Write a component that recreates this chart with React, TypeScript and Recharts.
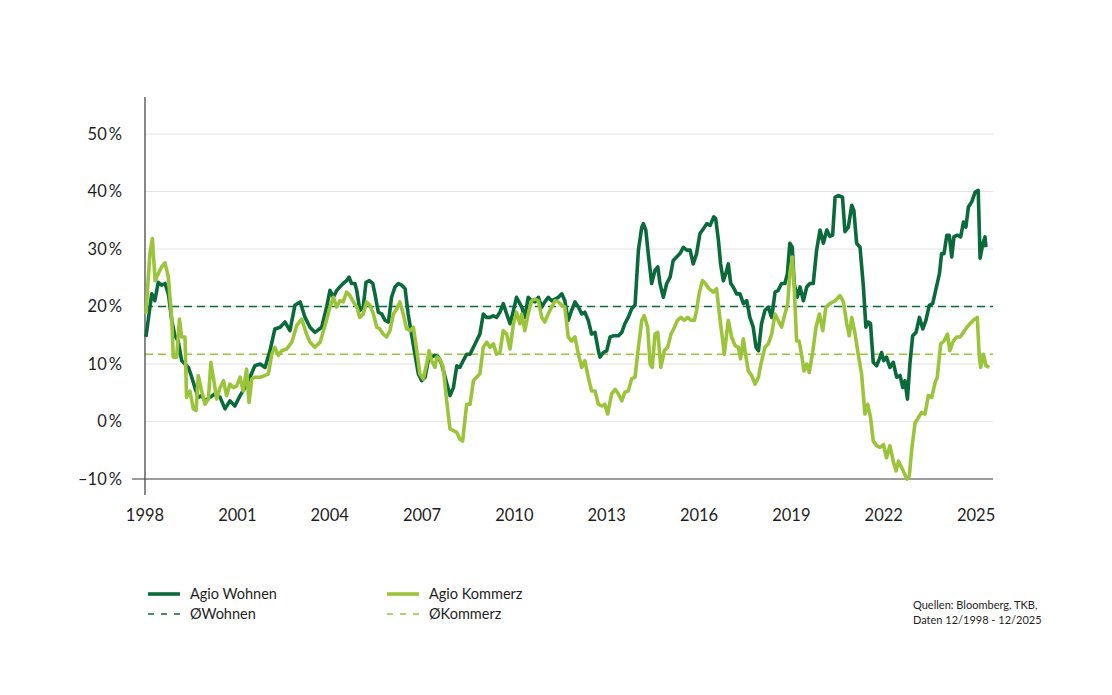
import React from 'react';
import { LineChart, Line, XAxis, YAxis, ReferenceLine } from 'recharts';

const DARK = '#0b6a3b';
const LIGHT = '#9cc43b';
const FONT = 'Lato, "Noto Sans", sans-serif';

const yearTicks = [1998, 2001, 2004, 2007, 2010, 2013, 2016, 2019, 2022, 2025];
const percentTicks = [-10, 0, 10, 20, 30, 40, 50];
const gridLevels = [0, 10, 20, 30, 40, 50];
const avgWohnen = 20;
const avgKommerz = 11.7;

// [Jahr, Agio in %]
const wohnen: [number, number][] = [
  [1998.03, 14.7], [1998.22, 22.2], [1998.32, 21], [1998.43, 24.2], [1998.54, 23.7], [1998.65, 24],
  [1998.76, 22.2], [1998.87, 17.6], [1998.97, 14.9], [1999.08, 14], [1999.19, 10.6], [1999.3, 10],
  [1999.41, 9.4], [1999.52, 7.7], [1999.62, 5.9], [1999.73, 4.2], [1999.84, 4.5], [1999.95, 3.6],
  [2000.11, 4.2], [2000.27, 4.8], [2000.44, 4.2], [2000.6, 2.2], [2000.76, 3.6], [2000.92, 2.7],
  [2001.09, 4.5], [2001.25, 5.9], [2001.41, 7.7], [2001.57, 9.7], [2001.74, 10], [2001.9, 9.4],
  [2002.06, 12.3], [2002.22, 16.1], [2002.39, 16.4], [2002.55, 17.3], [2002.71, 15.8], [2002.87, 20.2],
  [2003.04, 20.8], [2003.2, 18.1], [2003.36, 16.4], [2003.52, 15.5], [2003.74, 16.4], [2003.9, 19.9],
  [2004.01, 22.8], [2004.12, 21.6], [2004.23, 22.8], [2004.33, 23.4], [2004.44, 24], [2004.55, 24.5],
  [2004.63, 25.1], [2004.71, 24], [2004.82, 24], [2004.88, 22.8], [2004.98, 19.3], [2005.09, 19.9],
  [2005.18, 24.2], [2005.29, 24.5], [2005.4, 24], [2005.47, 22.2], [2005.58, 19], [2005.69, 18.7],
  [2005.8, 17.6], [2005.91, 17.3], [2006.01, 21.6], [2006.12, 23.4], [2006.23, 24], [2006.34, 23.7],
  [2006.45, 23.1], [2006.55, 18.7], [2006.66, 15.2], [2006.77, 11.7], [2006.88, 8.3], [2006.99, 7.1],
  [2007.1, 7.7], [2007.2, 10.6], [2007.31, 11.2], [2007.42, 11.5], [2007.53, 11.2], [2007.64, 10],
  [2007.75, 7.7], [2007.91, 4.5], [2008.02, 5.9], [2008.13, 9.7], [2008.23, 9.4], [2008.34, 10.6],
  [2008.45, 11.7], [2008.56, 11.7], [2008.67, 12.9], [2008.77, 14], [2008.88, 15.2], [2008.99, 18.7],
  [2009.1, 18.1], [2009.21, 18.1], [2009.32, 18.4], [2009.42, 18.1], [2009.53, 19], [2009.64, 20.5],
  [2009.75, 18.7], [2009.86, 17], [2009.97, 19.3], [2010.07, 21.6], [2010.24, 19.9], [2010.34, 18.1],
  [2010.45, 21.6], [2010.56, 21], [2010.67, 20.8], [2010.78, 21.6], [2010.89, 19.9], [2010.99, 20.8],
  [2011.1, 21.6], [2011.21, 21], [2011.32, 21.3], [2011.43, 21.6], [2011.54, 22.2], [2011.64, 21],
  [2011.75, 17.6], [2011.86, 19.3], [2011.97, 20.8], [2012.08, 19.9], [2012.19, 18.7], [2012.29, 19],
  [2012.4, 17.6], [2012.51, 15.2], [2012.62, 15.5], [2012.73, 12.3], [2012.78, 11.2], [2012.89, 12],
  [2013.0, 12.3], [2013.11, 14.7], [2013.21, 14.9], [2013.38, 14.9], [2013.49, 15.5], [2013.59, 17],
  [2013.7, 18.1], [2013.81, 19.6], [2013.92, 20.2], [2014.03, 29.8], [2014.14, 33.8], [2014.19, 34.4],
  [2014.27, 33.3], [2014.35, 29.2], [2014.46, 24], [2014.57, 26.3], [2014.66, 26.9], [2014.73, 24],
  [2014.84, 21.6], [2014.95, 24], [2015.06, 25.1], [2015.16, 28], [2015.27, 28.6], [2015.38, 29.2],
  [2015.49, 30.3], [2015.6, 29.8], [2015.71, 29.8], [2015.81, 27.4], [2015.92, 29.2], [2016.03, 32.7],
  [2016.14, 33.5], [2016.25, 34.4], [2016.36, 34.1], [2016.48, 35.6], [2016.54, 35.3], [2016.63, 31.5],
  [2016.7, 27.4], [2016.79, 24.5], [2016.87, 25.7], [2016.95, 27.4], [2017.03, 24], [2017.11, 23.4],
  [2017.22, 22.2], [2017.33, 22.2], [2017.44, 20.5], [2017.55, 21], [2017.65, 18.1], [2017.76, 16.4],
  [2017.85, 12.9], [2017.93, 12.3], [2018.03, 17], [2018.14, 19.3], [2018.25, 19.9], [2018.36, 18.1],
  [2018.47, 22.5], [2018.57, 22.8], [2018.68, 24], [2018.79, 24], [2018.87, 25.7], [2018.95, 31],
  [2019.03, 30.3], [2019.09, 24], [2019.19, 21.6], [2019.28, 23.4], [2019.39, 21], [2019.5, 23.4],
  [2019.6, 24], [2019.71, 24], [2019.82, 29.8], [2019.93, 33.3], [2020.04, 31], [2020.15, 33.3],
  [2020.25, 32.2], [2020.34, 32.4], [2020.42, 39], [2020.52, 39.3], [2020.66, 39], [2020.74, 33],
  [2020.85, 33.8], [2020.96, 37.6], [2021.03, 36.7], [2021.12, 31], [2021.23, 30.3], [2021.34, 23.4],
  [2021.42, 16.4], [2021.5, 17.3], [2021.57, 17], [2021.66, 10.3], [2021.77, 9.7], [2021.86, 10.9],
  [2021.93, 12], [2022.0, 10.6], [2022.09, 11.2], [2022.2, 9.4], [2022.31, 10.3], [2022.42, 7.7],
  [2022.53, 8], [2022.62, 5.9], [2022.69, 7.1], [2022.77, 3.9], [2022.85, 10], [2022.94, 14.9],
  [2023.05, 15.5], [2023.16, 18.1], [2023.27, 16.1], [2023.37, 17.6], [2023.48, 20.2], [2023.59, 20.5],
  [2023.7, 23.1], [2023.81, 25.7], [2023.88, 29.2], [2023.96, 29.2], [2024.05, 32.4], [2024.13, 32.4],
  [2024.21, 28.6], [2024.28, 32.1], [2024.39, 32.4], [2024.5, 32.1], [2024.59, 34.7], [2024.67, 33.8],
  [2024.75, 37.3], [2024.86, 38.2], [2024.97, 39.9], [2025.07, 40.2], [2025.13, 28.4], [2025.22, 30.9],
  [2025.29, 32.1], [2025.32, 30.3],
];

const kommerz: [number, number][] = [
  [1998.03, 18.7], [1998.16, 29.2], [1998.24, 31.8], [1998.33, 24.5], [1998.43, 25.7], [1998.54, 26.9],
  [1998.65, 27.6], [1998.76, 25.1], [1998.87, 17.6], [1998.92, 11.2], [1999.03, 11.2], [1999.12, 17.8],
  [1999.19, 14.7], [1999.3, 14.7], [1999.35, 4.2], [1999.46, 5.3], [1999.57, 2.2], [1999.66, 1.9],
  [1999.73, 8], [1999.84, 5.3], [1999.95, 3], [2000.06, 3.9], [2000.14, 10.3], [2000.22, 7.7],
  [2000.33, 3.9], [2000.44, 5.9], [2000.55, 7.1], [2000.65, 4.5], [2000.76, 6.5], [2000.87, 5.9],
  [2000.98, 6.2], [2001.09, 7.7], [2001.19, 5.3], [2001.3, 9.1], [2001.38, 3.3], [2001.47, 7.4],
  [2001.57, 7.7], [2001.74, 7.7], [2001.9, 8], [2002.01, 8.3], [2002.12, 11.7], [2002.22, 12.9],
  [2002.33, 11.5], [2002.44, 12.3], [2002.6, 12.6], [2002.77, 13.8], [2002.93, 16.7], [2003.09, 17.8],
  [2003.25, 15.2], [2003.36, 13.8], [2003.52, 12.9], [2003.69, 13.8], [2003.85, 16.7], [2004.01, 19.9],
  [2004.12, 21.6], [2004.23, 19.9], [2004.33, 21], [2004.44, 20.8], [2004.55, 22.5], [2004.66, 21.9],
  [2004.77, 20.8], [2004.88, 19.9], [2004.98, 18.1], [2005.09, 18.7], [2005.2, 20.8], [2005.31, 20.2],
  [2005.42, 18.7], [2005.53, 16.4], [2005.63, 16.1], [2005.74, 15.2], [2005.85, 14.7], [2005.96, 15.8],
  [2006.07, 18.7], [2006.18, 19.6], [2006.28, 20.8], [2006.39, 18.7], [2006.5, 16.1], [2006.61, 15.8],
  [2006.72, 16.4], [2006.83, 12.3], [2006.93, 8.3], [2007.04, 7.4], [2007.15, 10], [2007.23, 12.3],
  [2007.31, 10.6], [2007.42, 9.4], [2007.48, 11.2], [2007.58, 10.9], [2007.69, 9.4], [2007.8, 3.6],
  [2007.91, -1.3], [2008.02, -1.6], [2008.13, -1.9], [2008.23, -3.1], [2008.32, -3.4], [2008.45, 3],
  [2008.56, 3], [2008.67, 7.1], [2008.77, 7.7], [2008.88, 8.3], [2008.99, 12.9], [2009.1, 13.8],
  [2009.21, 12.9], [2009.32, 13.5], [2009.42, 11.7], [2009.53, 12], [2009.64, 15.8], [2009.75, 15.2],
  [2009.86, 12.6], [2009.97, 17], [2010.07, 19], [2010.18, 17], [2010.24, 18.7], [2010.34, 15.8],
  [2010.45, 18.7], [2010.56, 21], [2010.67, 21.3], [2010.78, 21], [2010.89, 18.1], [2010.99, 17.3],
  [2011.1, 18.7], [2011.21, 19.9], [2011.32, 21], [2011.43, 20.8], [2011.54, 20.2], [2011.64, 19.9],
  [2011.75, 14.7], [2011.86, 14], [2011.97, 14.7], [2012.08, 11.7], [2012.19, 9.4], [2012.29, 10.6],
  [2012.4, 7.7], [2012.51, 5.3], [2012.62, 5.3], [2012.73, 3], [2012.84, 2.7], [2012.94, 3],
  [2013.03, 1.3], [2013.16, 4.8], [2013.27, 5.6], [2013.38, 4.8], [2013.49, 3.6], [2013.59, 5.1],
  [2013.7, 5.3], [2013.81, 7.4], [2013.92, 7.7], [2014.03, 12.9], [2014.14, 17.6], [2014.22, 18.4],
  [2014.33, 16.4], [2014.41, 10], [2014.48, 9.4], [2014.57, 15.2], [2014.66, 15.5], [2014.76, 9.4],
  [2014.87, 12.3], [2014.98, 12.9], [2015.09, 15.2], [2015.2, 16.4], [2015.3, 17.6], [2015.41, 18.1],
  [2015.52, 17.6], [2015.63, 18.1], [2015.74, 17.6], [2015.85, 17.6], [2015.92, 19.3], [2016.0, 22.2],
  [2016.11, 24.5], [2016.21, 24], [2016.32, 23.1], [2016.46, 22.5], [2016.57, 23.1], [2016.66, 18.7],
  [2016.77, 14], [2016.82, 11.7], [2016.95, 17.6], [2017.06, 14.7], [2017.17, 13.2], [2017.28, 12.9],
  [2017.35, 10.9], [2017.44, 14.4], [2017.51, 11.7], [2017.6, 8.8], [2017.71, 8], [2017.82, 6.5],
  [2017.93, 7.7], [2018.01, 10], [2018.14, 12.9], [2018.25, 13.5], [2018.36, 15.2], [2018.47, 18.7],
  [2018.57, 17.6], [2018.68, 16.4], [2018.79, 18.7], [2018.88, 20.5], [2018.95, 25.7], [2019.03, 28.6],
  [2019.09, 23.4], [2019.17, 14], [2019.25, 14], [2019.33, 11.7], [2019.41, 8.8], [2019.5, 10],
  [2019.58, 8.5], [2019.69, 12], [2019.8, 16.4], [2019.91, 18.7], [2020.02, 15.8], [2020.12, 19.9],
  [2020.25, 20.5], [2020.42, 21], [2020.58, 21.9], [2020.69, 20.8], [2020.8, 17], [2020.88, 14.9],
  [2020.96, 18.1], [2021.07, 15.2], [2021.17, 11.7], [2021.28, 8.3], [2021.39, 1.3], [2021.48, 3],
  [2021.57, 0.7], [2021.66, -3.4], [2021.77, -4.2], [2021.88, -4.5], [2021.99, -4], [2022.09, -6.3],
  [2022.2, -4.2], [2022.31, -6.9], [2022.4, -8.6], [2022.48, -6.9], [2022.58, -8], [2022.66, -8.9],
  [2022.75, -10], [2022.83, -9.5], [2022.91, -4.8], [2023.02, -0.2], [2023.13, 0.7], [2023.23, 1.6],
  [2023.34, 1.3], [2023.45, 4.5], [2023.56, 4.2], [2023.67, 6.8], [2023.74, 7.7], [2023.85, 13.5],
  [2023.96, 14], [2024.07, 15.2], [2024.15, 12.3], [2024.26, 14], [2024.37, 14.7], [2024.48, 14.7],
  [2024.59, 15.5], [2024.7, 16.4], [2024.8, 17], [2024.91, 17.6], [2025.04, 18.1], [2025.1, 11.7],
  [2025.15, 9.4], [2025.24, 11.7], [2025.32, 9.7], [2025.43, 9.4],
];

const X_MIN = 1997.578;
const X_MAX = 2025.55;

const toPoints = (rows: [number, number][]) => rows.map(([t, v]) => ({ t, v }));

const fmtPercent = (v: number) => (v < 0 ? `–${-v}\u2009%` : `${v}\u2009%`);

const LegendLine = ({ color, dashed }: { color: string; dashed?: boolean }) => (
  <svg width={34} height={6} style={{ display: 'block' }}>
    <line
      x1={1}
      y1={3}
      x2={33}
      y2={3}
      stroke={color}
      strokeWidth={dashed ? 1.6 : 3.6}
      strokeDasharray={dashed ? '6 7' : undefined}
    />
  </svg>
);

const legendItems = [
  { label: 'Agio Wohnen', color: DARK, dashed: false, left: 147, top: 594 },
  { label: 'ØWohnen', color: DARK, dashed: true, left: 147, top: 614 },
  { label: 'Agio Kommerz', color: LIGHT, dashed: false, left: 386, top: 594 },
  { label: 'ØKommerz', color: LIGHT, dashed: true, left: 386, top: 614 },
];

export default function App() {
  const wohnenData = toPoints(wohnen);
  const kommerzData = toPoints(kommerz);

  return (
    <div style={{ position: 'absolute', left: 0, top: 0, width: 1112, height: 695, background: '#fff', fontFamily: FONT }}>
      <LineChart width={1112} height={695} margin={{ top: 97, right: 119, bottom: 170, left: 72 }}>
        <XAxis
          type="number"
          dataKey="t"
          domain={[X_MIN, X_MAX]}
          ticks={yearTicks}
          interval={0}
          allowDataOverflow
          axisLine={false}
          tickLine={false}
          tickSize={0}
          tickMargin={14}
          height={30}
          tick={{ fill: '#1e1e1e', fontSize: 16.5, fontFamily: FONT }}
        />
        <YAxis
          type="number"
          domain={[-12.78, 56.43]}
          ticks={percentTicks}
          interval={0}
          allowDataOverflow
          axisLine={false}
          tickLine={false}
          tickSize={0}
          tickMargin={10}
          width={60}
          tickFormatter={fmtPercent}
          tick={{ fill: '#1e1e1e', fontSize: 16.5, fontFamily: FONT }}
        />
        {gridLevels.map((g) => (
          <ReferenceLine
            key={g}
            segment={[{ x: 1998, y: g }, { x: X_MAX, y: g }]}
            stroke="#e4e4e4"
            strokeWidth={1.2}
          />
        ))}
        <ReferenceLine
          segment={[{ x: 1998, y: avgWohnen }, { x: X_MAX, y: avgWohnen }]}
          stroke={DARK}
          strokeWidth={1.6}
          strokeDasharray="8 5"
        />
        <ReferenceLine
          segment={[{ x: 1998, y: avgKommerz }, { x: X_MAX, y: avgKommerz }]}
          stroke={LIGHT}
          strokeWidth={1.6}
          strokeDasharray="8 5"
        />
        <ReferenceLine y={-10} stroke="#3a3a3a" strokeWidth={1.2} />
        <ReferenceLine x={1998} stroke="#3a3a3a" strokeWidth={1.2} />
        <Line
          data={wohnenData}
          dataKey="v"
          type="linear"
          stroke={DARK}
          strokeWidth={3.6}
          dot={false}
          activeDot={false}
          isAnimationActive={false}
          strokeLinejoin="round"
        />
        <Line
          data={kommerzData}
          dataKey="v"
          type="linear"
          stroke={LIGHT}
          strokeWidth={3.6}
          dot={false}
          activeDot={false}
          isAnimationActive={false}
          strokeLinejoin="round"
        />
      </LineChart>

      {legendItems.map((item) => (
        <div
          key={item.label}
          style={{ position: 'absolute', left: item.left, top: item.top - 9, height: 18, display: 'flex', alignItems: 'center' }}
        >
          <LegendLine color={item.color} dashed={item.dashed} />
          <span style={{ marginLeft: 9, fontSize: 14.5, color: '#1e1e1e', lineHeight: '18px' }}>{item.label}</span>
        </div>
      ))}

      <div style={{ position: 'absolute', left: 913, top: 597, fontSize: 11, lineHeight: '15px', color: '#1e1e1e' }}>
        Quellen: Bloomberg, TKB,
        <br />
        Daten 12/1998 - 12/2025
      </div>
    </div>
  );
}
